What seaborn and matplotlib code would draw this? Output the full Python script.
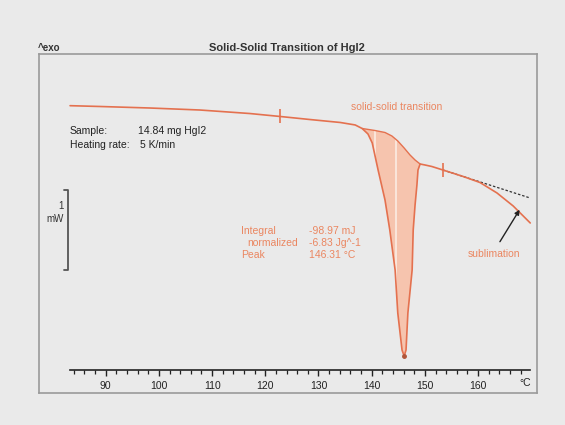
import numpy as np
import matplotlib
matplotlib.use("Agg")
import matplotlib.pyplot as plt
import seaborn as sns
import pandas as pd

# ---- data ----
temp_c = [83.3, 88.9, 98.3, 107.7, 117.1, 122.8, 128.4, 134.1, 136.9, 138.2,
          139.3, 140.1, 141.2, 142.5, 143.4, 144.4, 144.9, 145.7, 146.1, 146.45,
          146.8, 147.6, 147.8, 148.15, 148.5, 148.7, 149.1, 150.0, 151.3, 153.4,
          157.2, 160.35, 163.55, 166.6, 169.8]
heat_flow_mw = [0.000, -0.010, -0.029, -0.054, -0.098, -0.135, -0.173, -0.210, -0.241, -0.285,
                -0.354, -0.466, -0.804, -1.179, -1.554, -2.054, -2.591, -3.054, -3.129, -3.054,
                -2.591, -2.054, -1.554, -1.241, -0.991, -0.804, -0.729, -0.741, -0.760, -0.804,
                -0.885, -0.960, -1.091, -1.254, -1.466]

# sigmoid integration baseline under the peak
base_temp = [138.2, 140.6, 142.5, 143.8, 144.9, 146.1, 147.2, 148.15, 149.1]
base_mw = [-0.285, -0.310, -0.335, -0.379, -0.441, -0.529, -0.616, -0.679, -0.729]

# tangent (extrapolated) line for sublimation
tangent_temp = [153.4, 169.8]
tangent_mw = [-0.804, -1.154]

# limit markers on the curve and peak
limit_temp = [122.8, 153.4]
limit_mw = [-0.135, -0.804]
peak_temp = [146.1]
peak_mw = [-3.129]

# x axis ticks
major_ticks = [90, 100, 110, 120, 130, 140, 150, 160]
tick_labels = ["90", "100", "110", "120", "130", "140", "150", "160"]

# ---- styling ----
sns.set_style("white")
plt.rcParams['font.family'] = ['Liberation Sans', 'DejaVu Sans']

BG = "#eaeaea"
CURVE = "#e4714f"
FILL = "#f6c4ae"
TEXT = "#ea8660"

W, H = 565, 425
fig = plt.figure(figsize=(W / 100, H / 100), dpi=100, facecolor=BG)

def fx(px):
    return px / W

def fy(py):
    return 1 - py / H

# main framed axes
ax = fig.add_axes([fx(39), fy(393), (537 - 39) / W, (393 - 54) / H])
ax.set_facecolor(BG)
ax.set_xlim(77.46, 171.07)
ax.set_ylim(-3.591, 0.646)
ax.set_xticks([])
ax.set_yticks([])
for s in ax.spines.values():
    s.set_color("#9a9a9a")
    s.set_linewidth(1.2)

# fill of the integrated peak area
i0 = temp_c.index(138.2)
i1 = temp_c.index(149.1)
poly_x = temp_c[i0:i1 + 1] + base_temp[::-1]
poly_y = heat_flow_mw[i0:i1 + 1] + base_mw[::-1]
patches = ax.fill(poly_x, poly_y, color=FILL, lw=0, zorder=1)
for xv in (140.6, 144.5):
    ln = ax.axvline(xv, color="#fbe6dc", lw=1.4, zorder=1.5)
    ln.set_clip_path(patches[0])

# baseline
ax.plot(base_temp, base_mw, color=CURVE, lw=1.0, zorder=2)

# tangent line
ax.plot(tangent_temp, tangent_mw, color="#333333", lw=0.9, ls=(0, (2, 1.5)), zorder=2)

# main curve
df = pd.DataFrame({"T": temp_c, "mW": heat_flow_mw})
sns.lineplot(data=df, x="T", y="mW", sort=False, color=CURVE, lw=1.2, ax=ax, zorder=3)
ax.set_xlabel("")
ax.set_ylabel("")

# limit ticks and peak dot
ax.plot(limit_temp, limit_mw, ls="none", marker="|", ms=10, mew=1.2, color=CURVE, zorder=4)
ax.plot(peak_temp, peak_mw, ls="none", marker="o", ms=2.5, color="#b0553a", zorder=4)

# sublimation arrow
ax.annotate("", xy=(167.8, -1.30), xytext=(164.1, -1.70),
            arrowprops=dict(arrowstyle="-|>", color="#222222", lw=1.0,
                            mutation_scale=7, shrinkA=0, shrinkB=0), zorder=5)

# scale bar 1 mW
scale_mw = 1.0
sb_x = 82.9
sb_top = -1.054
ax.plot([sb_x - 0.7, sb_x, sb_x, sb_x - 0.7],
        [sb_top, sb_top, sb_top - scale_mw, sb_top - scale_mw],
        color="#555555", lw=1.3, clip_on=False)

# bottom temperature axis
axx = fig.add_axes([fx(70), fy(370), (530 - 70) / W, 0.0001])
axx.set_facecolor("none")
axx.set_xlim(83.29, 169.76)
axx.set_yticks([])
for side in ("left", "right", "top"):
    axx.spines[side].set_visible(False)
axx.spines["bottom"].set_color("#222222")
axx.spines["bottom"].set_linewidth(1.2)
axx.set_xticks(major_ticks)
axx.set_xticklabels(tick_labels)
axx.set_xticks(np.arange(84, 170, 2), minor=True)
axx.tick_params(axis="x", which="major", direction="out", length=4, width=1,
                colors="#222222", labelsize=7.5, pad=4, bottom=True)
axx.tick_params(axis="x", which="minor", direction="out", length=3, width=0.9,
                colors="#222222", bottom=True)
fig.text(fx(525), fy(383), "°C", fontsize=7.5, color="#222222", ha="center", va="center")

# texts
fig.text(fx(287), fy(48), "Solid-Solid Transition of HgI2", fontsize=8,
         fontweight="bold", color="#333333", ha="center", va="center")
fig.text(fx(38), fy(48), "^exo", fontsize=7, fontweight="bold", color="#333333",
         ha="left", va="center")
fig.text(fx(397), fy(107), "solid-solid transition", fontsize=7.5, color=TEXT,
         ha="center", va="center")
fig.text(fx(70), fy(131), "Sample:", fontsize=7.5, color="#222222", ha="left", va="center")
fig.text(fx(138), fy(131), "14.84 mg HgI2", fontsize=7.5, color="#222222", ha="left", va="center")
fig.text(fx(70), fy(145), "Heating rate:", fontsize=7.5, color="#222222", ha="left", va="center")
fig.text(fx(140), fy(145), "5 K/min", fontsize=7.5, color="#222222", ha="left", va="center")

fig.text(fx(64), fy(206), "1", fontsize=7, color="#333333", ha="right", va="center")
fig.text(fx(64), fy(219), "mW", fontsize=7, color="#333333", ha="right", va="center")

fig.text(fx(241), fy(231), "Integral", fontsize=7.5, color=TEXT, ha="left", va="center")
fig.text(fx(247), fy(243), "normalized", fontsize=7.5, color=TEXT, ha="left", va="center")
fig.text(fx(241), fy(255), "Peak", fontsize=7.5, color=TEXT, ha="left", va="center")
fig.text(fx(309), fy(231), "-98.97 mJ", fontsize=7.5, color=TEXT, ha="left", va="center")
fig.text(fx(309), fy(243), "-6.83 Jg^-1", fontsize=7.5, color=TEXT, ha="left", va="center")
fig.text(fx(309), fy(255), "146.31 °C", fontsize=7.5, color=TEXT, ha="left", va="center")

fig.text(fx(494), fy(254), "sublimation", fontsize=7.5, color=TEXT, ha="center", va="center")

fig.savefig("out.png", dpi=100, facecolor=BG)
